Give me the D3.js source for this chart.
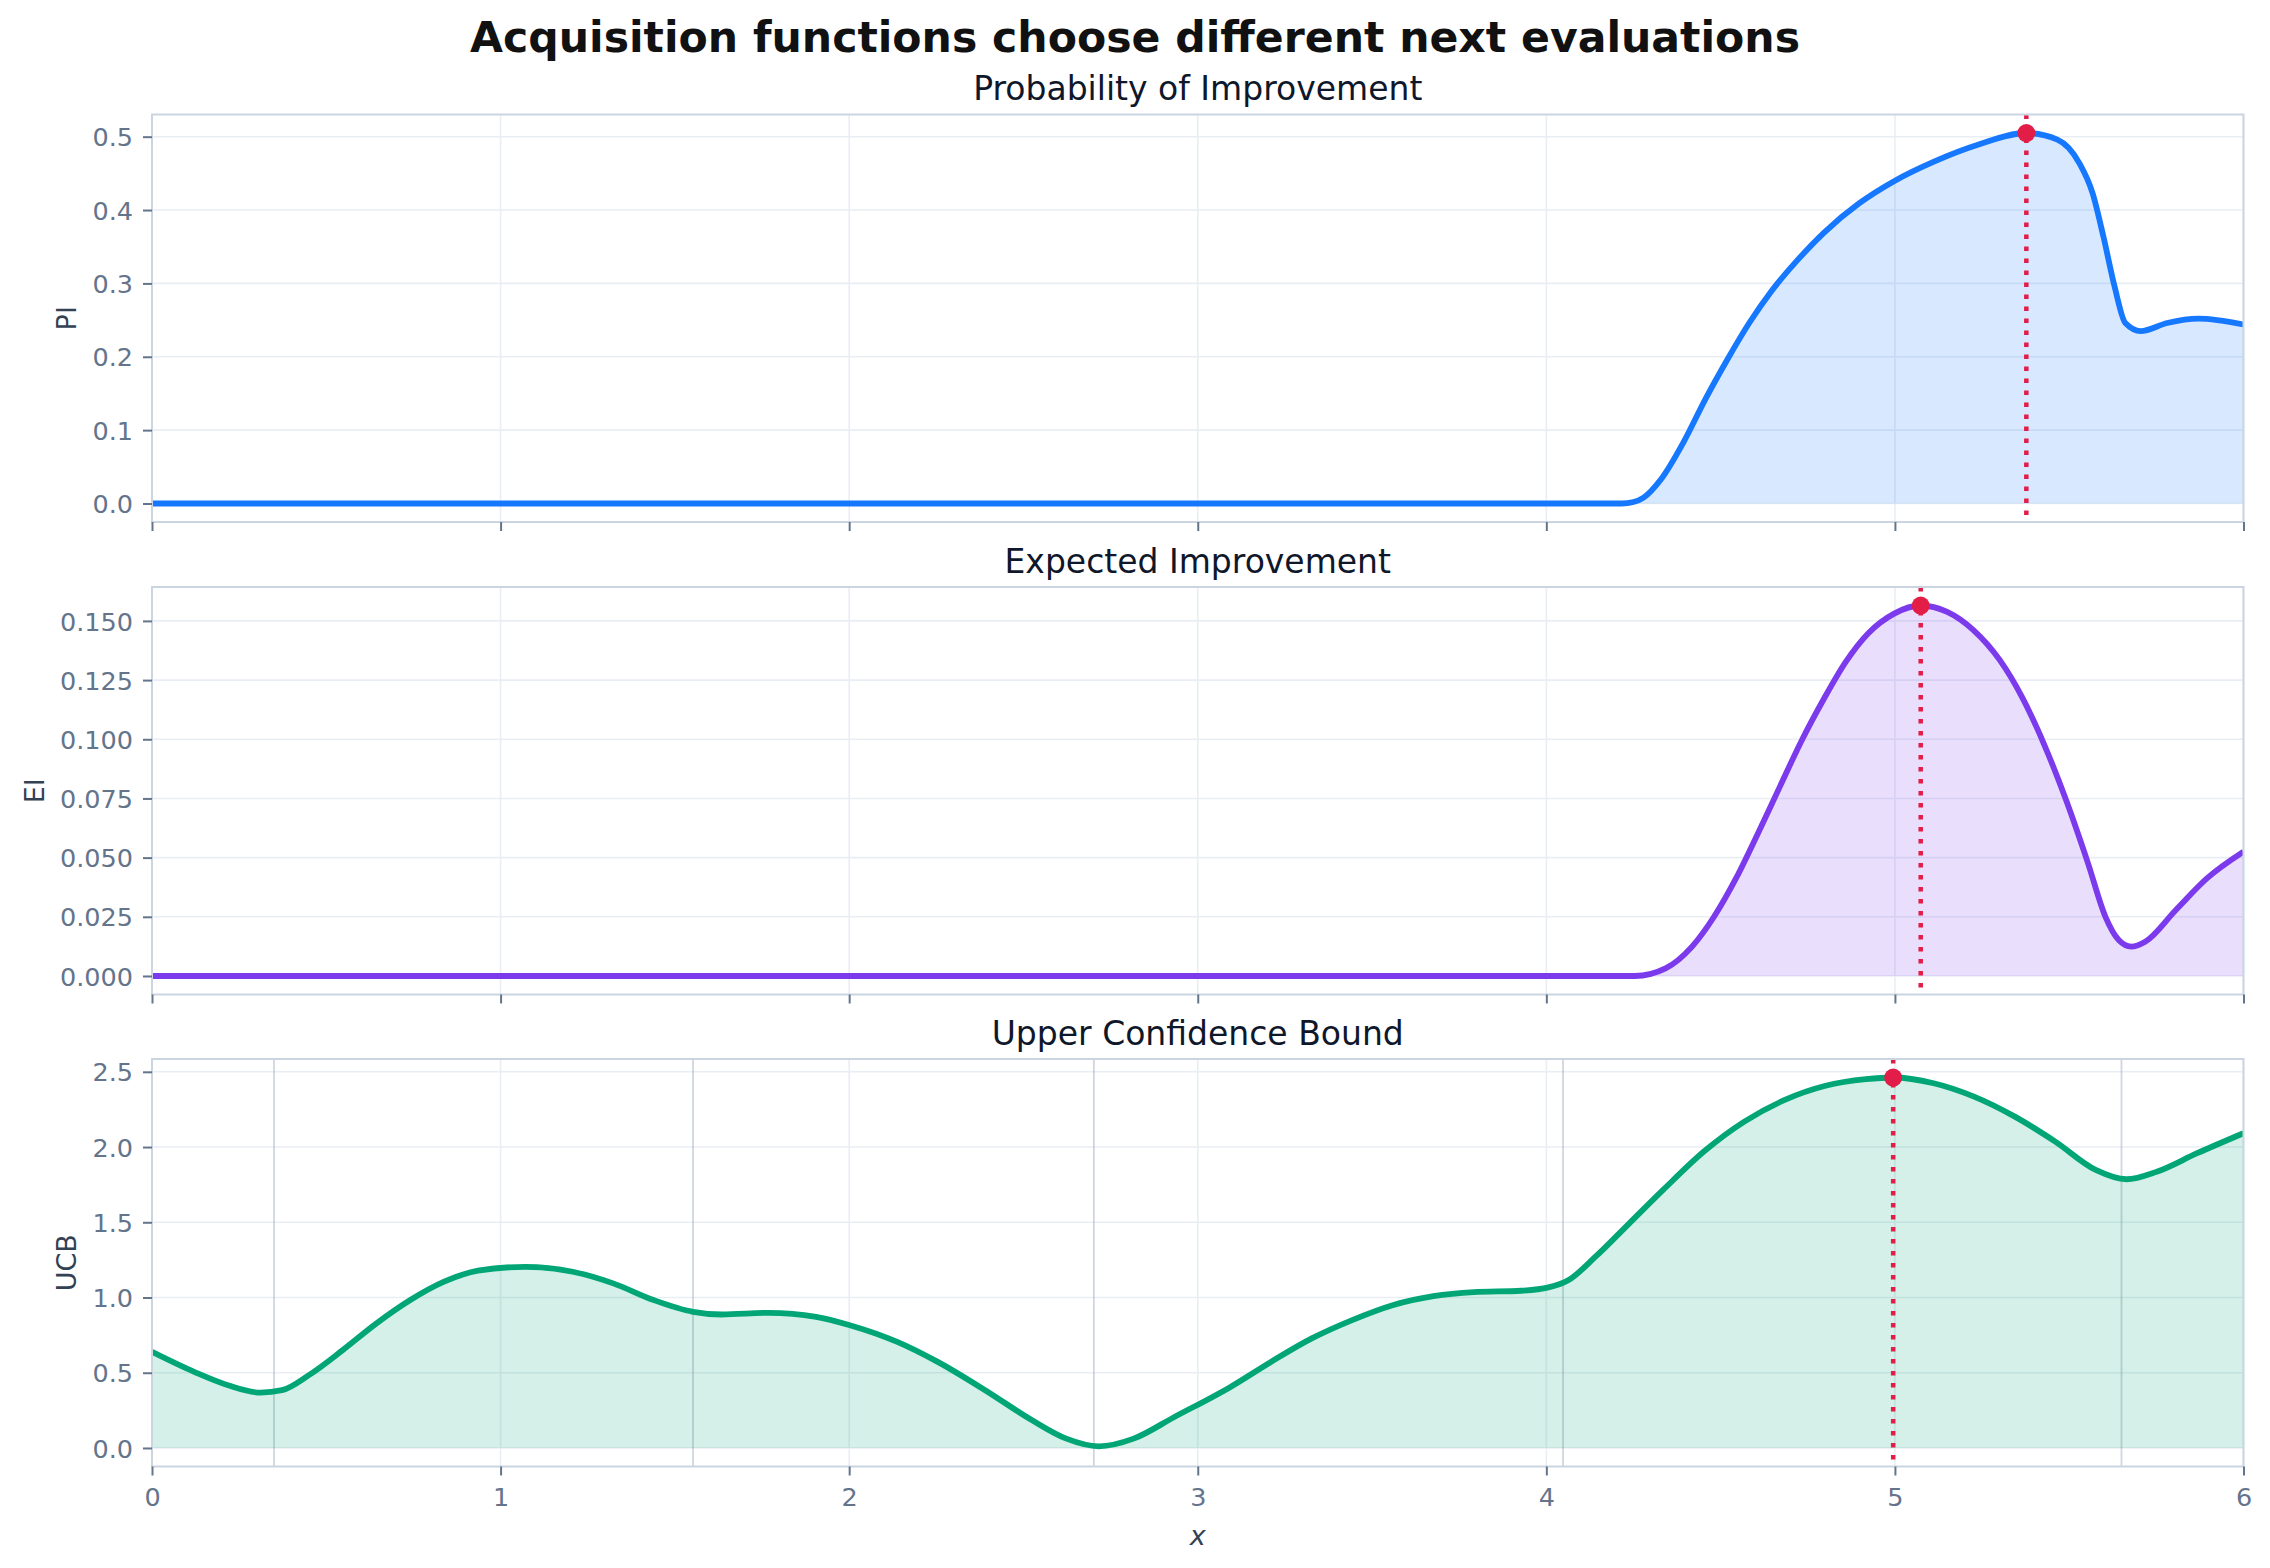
<!DOCTYPE html>
<html>
<head>
<meta charset="utf-8">
<script src="https://cdn.jsdelivr.net/npm/d3@7"></script>
<style>
  body { margin: 0; background: #fff; }
  text { font-family: "DejaVu Sans", sans-serif; }
</style>
</head>
<body>
<div id="chart"></div>
<script>
// x ticks shared by the three panels
const xTicks = [0, 1, 2, 3, 4, 5, 6];

// Probability of Improvement
const piX = [0, 1, 2, 3, 4, 4.216, 4.25, 4.279, 4.329, 4.393, 4.456, 4.519, 4.582, 4.645, 4.721, 4.796, 4.897, 5.0, 5.112, 5.238, 5.377, 5.466, 5.529, 5.567, 5.598, 5.630, 5.661, 5.705, 5.781, 5.870, 6.0];
const piY = [0, 0, 0, 0, 0, 0, 0.002, 0.008, 0.033, 0.083, 0.142, 0.196, 0.246, 0.289, 0.332, 0.369, 0.409, 0.440, 0.466, 0.489, 0.505, 0.496, 0.464, 0.423, 0.364, 0.296, 0.246, 0.235, 0.246, 0.252, 0.244];
const piTicks = [0, 0.1, 0.2, 0.3, 0.4, 0.5];

// Expected Improvement
const eiX = [0, 1, 2, 3, 4, 4.254, 4.342, 4.418, 4.481, 4.544, 4.607, 4.670, 4.733, 4.796, 4.859, 4.923, 4.998, 5.074, 5.150, 5.226, 5.301, 5.364, 5.427, 5.491, 5.554, 5.604, 5.642, 5.678, 5.718, 5.806, 5.895, 6.0];
const eiY = [0, 0, 0, 0, 0, 0, 0.0032, 0.0124, 0.025, 0.0412, 0.0602, 0.080, 0.0996, 0.117, 0.1327, 0.1447, 0.1531, 0.1565, 0.1538, 0.146, 0.1334, 0.118, 0.0982, 0.0743, 0.0476, 0.025, 0.0152, 0.0124, 0.0145, 0.0279, 0.0412, 0.0525];
const eiTicks = [0, 0.025, 0.05, 0.075, 0.1, 0.125, 0.15];

// Upper Confidence Bound
const ucbX = [0, 0.121, 0.218, 0.311, 0.373, 0.450, 0.547, 0.644, 0.741, 0.838, 0.935, 1.071, 1.207, 1.323, 1.439, 1.552, 1.634, 1.769, 1.905, 2.002, 2.138, 2.254, 2.390, 2.525, 2.623, 2.716, 2.816, 2.933, 3.094, 3.210, 3.327, 3.443, 3.559, 3.676, 3.792, 3.928, 4.006, 4.064, 4.141, 4.238, 4.335, 4.452, 4.568, 4.684, 4.801, 4.917, 4.995, 5.111, 5.227, 5.344, 5.460, 5.576, 5.664, 5.751, 5.867, 6.0];
const ucbY = [0.639, 0.506, 0.417, 0.368, 0.384, 0.484, 0.650, 0.828, 0.983, 1.105, 1.178, 1.204, 1.171, 1.094, 0.983, 0.905, 0.887, 0.898, 0.872, 0.816, 0.705, 0.572, 0.384, 0.184, 0.062, 0.011, 0.062, 0.206, 0.406, 0.572, 0.728, 0.850, 0.949, 1.009, 1.036, 1.045, 1.067, 1.116, 1.271, 1.493, 1.715, 1.970, 2.169, 2.313, 2.407, 2.451, 2.462, 2.424, 2.335, 2.202, 2.036, 1.848, 1.786, 1.836, 1.959, 2.092];
const ucbTicks = [0, 0.5, 1, 1.5, 2, 2.5];

// observed points (shown as vertical lines in the UCB panel)
const observedX = [0.35, 1.552, 2.702, 4.048, 5.650];

const panels = [
  { title: "Probability of Improvement", label: "PI", xs: piX, ys: piY, ticks: piTicks, fmt: ".1f", color: "#1677ff", obs: false },
  { title: "Expected Improvement", label: "EI", xs: eiX, ys: eiY, ticks: eiTicks, fmt: ".3f", color: "#7c3aed", obs: false },
  { title: "Upper Confidence Bound", label: "UCB", xs: ucbX, ys: ucbY, ticks: ucbTicks, fmt: ".1f", color: "#02a676", obs: true }
];

const W = 2270, H = 1568;
const left = 152, right = 2243.5, ph = 407.5;
const tops = [114.5, 587, 1059];
const tickFont = 25.5;

const svg = d3.select("#chart").append("svg")
    .attr("width", W)
    .attr("height", H)
    .style("background", "#fff");

svg.append("text")
    .attr("x", W / 2)
    .attr("y", 52)
    .attr("text-anchor", "middle")
    .style("font-size", "42.6px")
    .style("font-weight", "bold")
    .attr("fill", "#111")
    .text("Acquisition functions choose different next evaluations");

const x = d3.scaleLinear().domain([0, 6]).range([left, right]);
const curve = d3.curveMonotoneX;

panels.forEach(function(p, i) {
    const top = tops[i], bottom = top + ph;
    const maxV = d3.max(p.ys), minV = Math.min(0, d3.min(p.ys));
    const pad = (maxV - minV) * 0.05;
    const y = d3.scaleLinear().domain([minV - pad, maxV + pad]).range([bottom, top]);
    const pts = p.xs.map((v, k) => [v, p.ys[k]]);

    const g = svg.append("g");

    g.append("clipPath").attr("id", "clip" + i)
        .append("rect")
        .attr("x", left).attr("y", top)
        .attr("width", right - left).attr("height", ph);

    // grid
    g.selectAll(".hgrid").data(p.ticks).enter().append("line")
        .attr("x1", left).attr("x2", right)
        .attr("y1", d => y(d)).attr("y2", d => y(d))
        .attr("stroke", "#e9eef4").attr("stroke-width", 1.6);
    g.selectAll(".vgrid").data(xTicks).enter().append("line")
        .attr("x1", d => x(d)).attr("x2", d => x(d))
        .attr("y1", top).attr("y2", bottom)
        .attr("stroke", "#e9eef4").attr("stroke-width", 1.6);

    const plot = g.append("g").attr("clip-path", "url(#clip" + i + ")");

    if (p.obs) {
        plot.selectAll(".obs").data(observedX).enter().append("line")
            .attr("x1", d => x(d)).attr("x2", d => x(d))
            .attr("y1", top).attr("y2", bottom)
            .attr("stroke", "#94a3b8").attr("stroke-opacity", 0.45)
            .attr("stroke-width", 1.8);
    }

    const area = d3.area()
        .x(d => x(d[0])).y0(y(0)).y1(d => y(d[1]))
        .curve(curve);
    plot.append("path").datum(pts)
        .attr("d", area)
        .attr("fill", p.color).attr("fill-opacity", 0.17);

    const line = d3.line()
        .x(d => x(d[0])).y(d => y(d[1]))
        .curve(curve);
    plot.append("path").datum(pts)
        .attr("d", line)
        .attr("fill", "none")
        .attr("stroke", p.color)
        .attr("stroke-width", 5.8)
        .attr("stroke-linejoin", "round");

    // next evaluation = argmax
    const best = pts[d3.maxIndex(p.ys)];
    plot.append("line")
        .attr("x1", x(best[0])).attr("x2", x(best[0]))
        .attr("y1", top).attr("y2", bottom)
        .attr("stroke", "#e11d48").attr("stroke-width", 4.5)
        .attr("stroke-dasharray", "4.5,7.5");
    plot.append("circle")
        .attr("cx", x(best[0])).attr("cy", y(best[1]))
        .attr("r", 9).attr("fill", "#e11d48");

    // spines
    g.append("rect")
        .attr("x", left).attr("y", top)
        .attr("width", right - left).attr("height", ph)
        .attr("fill", "none").attr("stroke", "#cbd5e1").attr("stroke-width", 2);

    // axes
    const yAxis = g.append("g")
        .attr("transform", "translate(" + left + ",0)")
        .call(d3.axisLeft(y).tickValues(p.ticks).tickFormat(d3.format(p.fmt)).tickSize(9).tickPadding(10));
    const xAxis = g.append("g")
        .attr("transform", "translate(0," + bottom + ")")
        .call(d3.axisBottom(x).tickValues(xTicks).tickFormat(i === 2 ? d3.format("d") : "").tickSize(9).tickPadding(12));

    [yAxis, xAxis].forEach(function(a) {
        a.select(".domain").remove();
        a.selectAll(".tick line").attr("stroke", "#64748b").attr("stroke-width", 2);
        a.selectAll(".tick text")
            .attr("fill", "#64748b")
            .style("font-size", tickFont + "px")
            .style("font-family", "DejaVu Sans, sans-serif");
    });
    yAxis.selectAll(".tick text").attr("dy", "0.36em");

    // subplot title
    g.append("text")
        .attr("x", (left + right) / 2)
        .attr("y", top - 14.5)
        .attr("text-anchor", "middle")
        .style("font-size", "33px")
        .attr("fill", "#0f172a")
        .text(p.title);

    // y label next to tick labels
    const bb = yAxis.node().getBBox();
    const cx = left + bb.x - 11 - 15;
    g.append("text")
        .attr("transform", "translate(" + cx + "," + (top + ph / 2) + ") rotate(-90)")
        .attr("text-anchor", "middle")
        .attr("dy", "0.36em")
        .style("font-size", "27px")
        .attr("fill", "#334155")
        .text(p.label);
});

svg.append("text")
    .attr("x", (left + right) / 2)
    .attr("y", 1545)
    .attr("text-anchor", "middle")
    .style("font-size", "27px")
    .style("font-style", "italic")
    .attr("fill", "#334155")
    .text("x");
</script>
</body>
</html>
